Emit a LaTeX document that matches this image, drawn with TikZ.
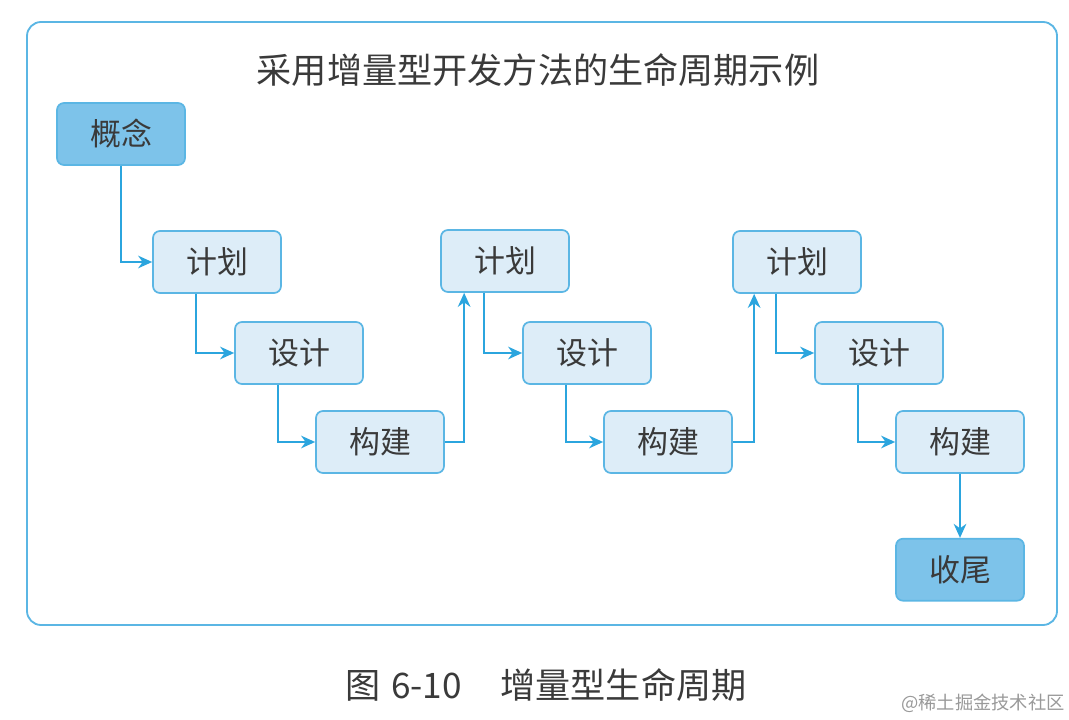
\documentclass[tikz,border=0pt]{standalone}
\usepackage{fontspec}
\newfontfamily\cjk{Noto Sans CJK SC}
\usetikzlibrary{positioning,calc,arrows.meta}

\definecolor{framecol}{HTML}{5BB6E4}
\definecolor{boxfill}{HTML}{DDEDF8}
\definecolor{darkfill}{HTML}{7DC3EA}
\definecolor{linecol}{HTML}{2BA5DE}
\definecolor{txtcol}{HTML}{3A3A3A}

\tikzset{
  stagebox/.style={draw=framecol, fill=boxfill, rounded corners=5pt, line width=1.2pt,
    minimum width=3.2cm, minimum height=1.55cm, text=txtcol,
    font=\cjk\fontsize{22}{24}\selectfont},
  endbox/.style={stagebox, fill=darkfill},
  flow/.style={draw=linecol, line width=1.2pt, -{Stealth[length=10pt,width=9pt]}},
}

\begin{document}
\begin{tikzpicture}[x=0.025cm,y=-0.025cm]
    \useasboundingbox (0,0) rectangle (1069,720);
    \draw[framecol, line width=1.3pt, rounded corners=10pt] (27,22) rectangle (1057,625);
    \node[text=txtcol, font=\cjk\fontsize{25}{27}\selectfont] (title) at (538,70) {采用增量型开发方法的生命周期示例};
    \node[endbox] (concept) at (121,134) {概念};
    \foreach \i/\x/\y in {1/217/262, 2/505/261, 3/797/262}{
      \node[stagebox] (plan\i) at (\x,\y) {计划};
      \node[stagebox] (design\i) at (\x+82,353) {设计};
      \node[stagebox] (build\i) at (\x+163,442) {构建};
      \draw[flow] ($(plan\i.south west)+(44,0)$) |- (design\i.west);
      \draw[flow] ($(design\i.south west)+(44,0)$) |- (build\i.west);
    }
    \node[endbox, below=1.6cm of build3] (closing) {收尾};
    \draw[flow] (concept.south) |- (plan1.west);
    \draw[flow] (build1.east) -| ($(plan2.south west)+(24,0)$);
    \draw[flow] (build2.east) -| ($(plan3.south west)+(22,0)$);
    \draw[flow] (build3) -- (closing);
    \node[text=txtcol, font=\cjk\fontsize{25}{27}\selectfont] (caption) at (546,685) {图\hspace{0.3em}6-10\hspace{1.1em}增量型生命周期};
    \node[text=gray!80, font=\cjk\fontsize{13}{15}\selectfont] (mark) at (983,703) {@稀土掘金技术社区};
  \end{tikzpicture}
\end{document}
